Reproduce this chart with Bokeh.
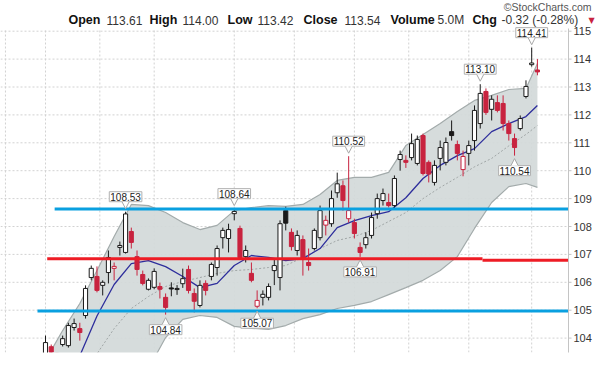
from bokeh.plotting import figure
from bokeh.models import Range1d, Label
from bokeh.embed import file_html
from bokeh.resources import INLINE

# ---------------- data ----------------
opens = [103.30, 103.69, 103.45, 103.77, 103.73, 104.38, 104.34, 104.81, 106.17, 106.21,
         105.89, 106.35, 106.50, 107.25, 107.07, 107.82, 106.92, 106.28, 105.75, 105.82,
         105.85, 105.46, 105.80, 105.74, 105.95, 106.46, 105.60, 105.17, 105.96, 106.21,
         106.53, 107.60, 107.57, 108.46, 107.93, 106.92, 106.32, 105.14, 105.46, 105.46,
         106.42, 106.17, 108.57, 107.79, 107.14, 107.53, 106.71, 107.21, 107.60, 108.05,
         108.10, 109.21, 109.46, 108.28, 108.14, 107.25, 107.35, 107.68, 108.46, 108.93,
         108.86, 108.75, 110.40, 110.37, 110.47, 110.26, 111.26, 110.30, 109.58, 110.44,
         110.30, 111.40, 110.94, 110.04, 110.62, 111.08, 111.69, 112.84, 112.20, 112.44,
         112.41, 111.69, 111.15, 111.51, 112.66, 113.80, 113.61]
highs = [104.09, 103.77, 103.47, 104.09, 104.55, 104.70, 104.55, 105.89, 106.60, 106.57,
         106.07, 107.14, 106.71, 107.46, 108.53, 107.96, 107.14, 106.42, 106.14, 106.50,
         105.99, 105.60, 106.00, 105.90, 106.49, 106.60, 105.78, 106.07, 106.07, 106.71,
         107.32, 107.96, 108.10, 108.64, 108.03, 107.32, 106.71, 105.71, 105.71, 105.96,
         106.85, 108.22, 108.71, 107.93, 107.86, 107.68, 107.21, 107.93, 108.75, 108.39,
         109.29, 109.93, 109.65, 110.52, 108.28, 107.43, 107.79, 108.50, 109.18, 109.36,
         109.18, 109.83, 110.72, 110.55, 111.33, 111.26, 111.33, 110.37, 110.37, 111.08,
         111.19, 111.80, 111.08, 110.72, 111.08, 112.34, 113.10, 112.95, 112.70, 112.70,
         112.70, 111.80, 111.33, 111.98, 113.24, 114.41, 114.00]
lows = [103.20, 103.40, 103.10, 103.70, 103.66, 104.27, 103.91, 104.70, 106.07, 105.64,
        105.53, 105.96, 106.07, 106.96, 107.03, 107.21, 106.24, 105.89, 105.71, 105.75,
        105.42, 104.84, 105.50, 105.55, 105.80, 105.60, 104.92, 105.10, 105.53, 106.07,
        106.24, 107.21, 107.07, 108.22, 106.85, 106.71, 106.00, 105.07, 105.17, 105.35,
        105.90, 105.71, 107.86, 107.14, 106.96, 106.24, 106.42, 107.14, 107.50, 107.68,
        107.99, 109.03, 108.57, 108.14, 107.57, 106.91, 107.21, 107.57, 108.28, 108.75,
        108.68, 108.64, 110.00, 110.10, 110.37, 110.19, 109.83, 109.58, 109.47, 110.01,
        110.19, 111.08, 110.37, 109.80, 110.19, 110.72, 111.51, 112.00, 111.80, 112.09,
        111.44, 111.08, 110.54, 111.44, 112.59, 113.73, 113.42]
closes = [103.84, 103.50, 103.30, 103.98, 104.45, 104.52, 104.20, 105.78, 106.50, 105.71,
          106.00, 106.89, 106.57, 107.32, 108.45, 107.43, 106.46, 105.96, 106.07, 106.39,
          105.75, 105.10, 105.76, 105.78, 106.13, 105.71, 105.32, 105.89, 105.71, 106.64,
          107.21, 107.86, 107.89, 108.54, 106.89, 107.14, 106.07, 105.35, 105.57, 105.85,
          106.60, 108.10, 108.12, 107.28, 107.68, 106.85, 106.60, 107.86, 108.57, 108.22,
          109.00, 109.53, 108.93, 108.57, 107.75, 107.07, 107.60, 108.32, 109.00, 109.18,
          108.75, 109.72, 110.58, 110.30, 110.97, 111.12, 109.90, 109.88, 110.19, 110.83,
          111.01, 111.26, 110.62, 110.51, 110.90, 112.16, 112.77, 112.09, 112.56, 112.16,
          111.69, 111.33, 110.83, 111.87, 113.02, 113.86, 113.54]
volume_text = "5.0M"

band_idx = [0, 3, 6, 9, 12, 15, 18, 21, 24, 27, 30, 33, 36, 39, 42, 45, 48, 51, 54, 57,
            60, 63, 66, 69, 72, 75, 78, 81, 84, 86]
bb_upper = [103.20, 104.27, 105.24, 106.42, 107.64, 108.79, 108.75, 108.50, 108.14, 107.89,
            108.04, 108.57, 108.68, 108.75, 108.72, 108.79, 109.15, 109.65, 109.76, 109.76,
            109.94, 110.90, 111.30, 111.69, 112.12, 112.52, 112.70, 112.91, 112.95, 113.84]
bb_lower = [102.00, 101.90, 101.90, 102.00, 102.20, 102.50, 102.90, 104.02, 104.67, 104.81,
            104.74, 104.42, 104.35, 104.31, 104.45, 104.70, 104.84, 105.06, 105.17, 105.31,
            105.56, 105.81, 106.07, 106.42, 106.92, 107.93, 108.86, 109.43, 109.54, 109.40]

ma_idx = [6, 9, 12, 15, 18, 21, 24, 27, 30, 33, 36, 39, 42, 45, 48, 51, 54, 57,
          60, 63, 66, 69, 72, 75, 78, 81, 84, 86]
sma20 = [102.90, 103.44, 104.34, 105.06, 105.49, 105.85, 106.03, 106.17, 106.32, 106.42,
         106.46, 106.53, 106.60, 106.89, 107.21, 107.50, 107.64, 107.86, 108.18, 108.50,
         109.00, 109.40, 109.76, 110.14, 110.44, 110.89, 111.30, 111.62]
sma_fast = [103.37, 104.79, 105.92, 106.67, 106.78, 106.56, 106.21, 105.81, 105.96, 106.60,
            106.96, 106.89, 106.78, 106.85, 107.21, 107.96, 108.21, 108.39, 108.53, 109.03,
            109.72, 110.19, 110.54, 110.79, 111.40, 111.69, 111.94, 112.34]

# hand-drawn level lines: price, start index, end index
level_price = [108.63, 106.84, 106.79, 104.97]
level_start = [1.6, 0.3, 76.4, -1.4]
level_end = [91.7, 76.4, 91.7, 91.7]
level_kind = ["blue", "red", "red", "blue"]

hi_label_idx = [14, 33, 53, 76, 85]
lo_label_idx = [21, 37, 55, 82]

vgrid_idx = [-7, 0, 9.5, 19, 33, 43.5, 54, 63.5, 74, 85]
price_ticks = [104, 105, 106, 107, 108, 109, 110, 111, 112, 113, 114, 115]

# ---------------- layout (page pixels -> data) ----------------
W, H = 608, 374
X0, DX = 45.0, 5.72          # page x of first candle, pixels per candle
Y115, DY = 30.7, 27.9        # page y of price 115, pixels per price unit


def dx(px):
    return (px - X0) / DX


def dy(py):
    return 115 - (py - Y115) / DY


PXX, PXY = 1 / DX, 1 / DY
XL, XR = dx(0), dx(568)      # plot area
YB, YT = dy(352), dy(28)

FONT = "Liberation Sans"
RED = "#c8233f"
BLK = "#1a1a1a"
GRID = "#d2d2d2"

p = figure(width=W, height=H, x_range=Range1d(dx(0), dx(W)), y_range=Range1d(dy(H), dy(0)),
           x_axis_location=None, y_axis_location=None, toolbar_location=None,
           output_backend="svg", min_border=0)
p.outline_line_color = None
p.background_fill_color = "white"
p.border_fill_color = "white"
p.xgrid.visible = False
p.ygrid.visible = False

# grid
p.segment(x0=[XL] * len(price_ticks), y0=price_ticks, x1=[XR] * len(price_ticks),
          y1=price_ticks, line_color=GRID, line_width=1, line_dash="2 2")
p.segment(x0=vgrid_idx, y0=[YB] * len(vgrid_idx), x1=vgrid_idx, y1=[YT] * len(vgrid_idx),
          line_color=GRID, line_width=1, line_dash="2 2")

# Bollinger band
p.varea(x=band_idx, y1=bb_lower, y2=bb_upper, fill_color="#d3d9d9", fill_alpha=0.92)
p.line(band_idx, bb_upper, line_color="#a3abab", line_width=1.2)
p.line(band_idx, bb_lower, line_color="#a3abab", line_width=1.2)
p.line(ma_idx, sma20, line_color="#a0a6a6", line_width=1, line_dash="2 2")
p.line(ma_idx, sma_fast, line_color="#2e2e9c", line_width=1.3)

# candles
n = len(closes)
idx = list(range(n))
line_cols, fill_cols, tops, bots = [], [], [], []
for i in range(n):
    ref = closes[i - 1] if i > 0 else opens[i]
    lc = BLK if closes[i] >= ref else RED
    line_cols.append(lc)
    fill_cols.append("white" if closes[i] >= opens[i] else lc)
    tops.append(max(opens[i], closes[i]))
    bots.append(min(opens[i], closes[i]))
p.segment(x0=idx, y0=lows, x1=idx, y1=highs, line_color=line_cols, line_width=1)
p.vbar(x=idx, width=0.72, top=tops, bottom=bots, fill_color=fill_cols,
       line_color=line_cols, line_width=1)

# level lines
kind_color = {"blue": "#0aa0e0", "red": "#ee1c25"}
p.segment(x0=level_start, y0=level_price, x1=level_end, y1=level_price,
          line_color=[kind_color[k] for k in level_kind], line_width=3)

# white masks outside the plot area (below and right)
p.quad(left=[dx(0), XR + 0.5 * PXX], right=[dx(W), dx(W)], bottom=[dy(H), dy(H)],
       top=[YB, dy(0)], fill_color="white", line_color=None, level="guide")

# right price axis
p.segment(x0=[XR], y0=[YB], x1=[XR], y1=[YT], line_color="#c4c4c4", line_width=1,
          level="annotation")
p.segment(x0=[XR] * len(price_ticks), y0=price_ticks, x1=[XR + 3 * PXX] * len(price_ticks),
          y1=price_ticks, line_color="#c4c4c4", line_width=1, level="annotation")
for t in price_ticks:
    p.add_layout(Label(x=dx(573), y=t, text=str(t), text_baseline="middle", text_font=FONT,
                       text_font_size="11px", text_color="#333333"))


# callouts
def callout(i, price, above):
    sgn = 1 if above else -1
    tip = price + sgn * 3 * PXY
    base = price + sgn * 10 * PXY
    hw = 3.5 * PXX
    p.patch([i - hw, i + hw, i], [base, base, tip], fill_color="white", line_color=None,
            level="overlay")
    p.multi_line([[i - hw, i], [i + hw, i]], [[base - sgn * 0.2 * PXY, tip], [base - sgn * 0.2 * PXY, tip]],
                 line_color="#a8a8a8", line_width=1, level="overlay")
    p.add_layout(Label(x=i, y=price, text=f"{price:.2f}", text_align="center",
                       text_baseline="bottom" if above else "top",
                       y_offset=10 if above else -10, text_font=FONT, text_font_size="10px",
                       text_color="#222222", background_fill_color="white",
                       border_line_color="#b0b0b0", padding=1))


for i in hi_label_idx:
    callout(i, highs[i], True)
for i in lo_label_idx:
    callout(i, lows[i], False)

# header
chg = closes[-1] - closes[-2]
pct = chg / closes[-2] * 100
header = [("Open", True, 68), (f"{opens[-1]:.2f}", False, 106), ("High", True, 149),
          (f"{highs[-1]:.2f}", False, 182), ("Low", True, 227), (f"{lows[-1]:.2f}", False, 257),
          ("Close", True, 303), (f"{closes[-1]:.2f}", False, 344), ("Volume", True, 390),
          (volume_text, False, 437), ("Chg", True, 472),
          (f"{chg:.2f} ({pct:.2f}%)", False, 501)]
HY = dy(19.5)
for txt, bold, x in header:
    p.add_layout(Label(x=dx(x), y=HY, text=txt, text_baseline="middle", text_font=FONT,
                       text_font_size="12.5px" if bold else "12px",
                       text_font_style="bold" if bold else "normal",
                       text_color="#111111" if bold else "#333333"))
p.add_layout(Label(x=dx(588), y=HY, text="\u25bc", text_baseline="middle",
                   text_font="DejaVu Sans", text_font_size="8px",
                   text_color=RED if chg < 0 else "#1a8a1a"))
p.add_layout(Label(x=dx(591), y=dy(0), text="\u00a9StockCharts.com", text_baseline="top",
                   text_align="right", text_font=FONT, text_font_size="10.5px",
                   text_color="#555555"))

open("out.html", "w").write(file_html(p, INLINE))
